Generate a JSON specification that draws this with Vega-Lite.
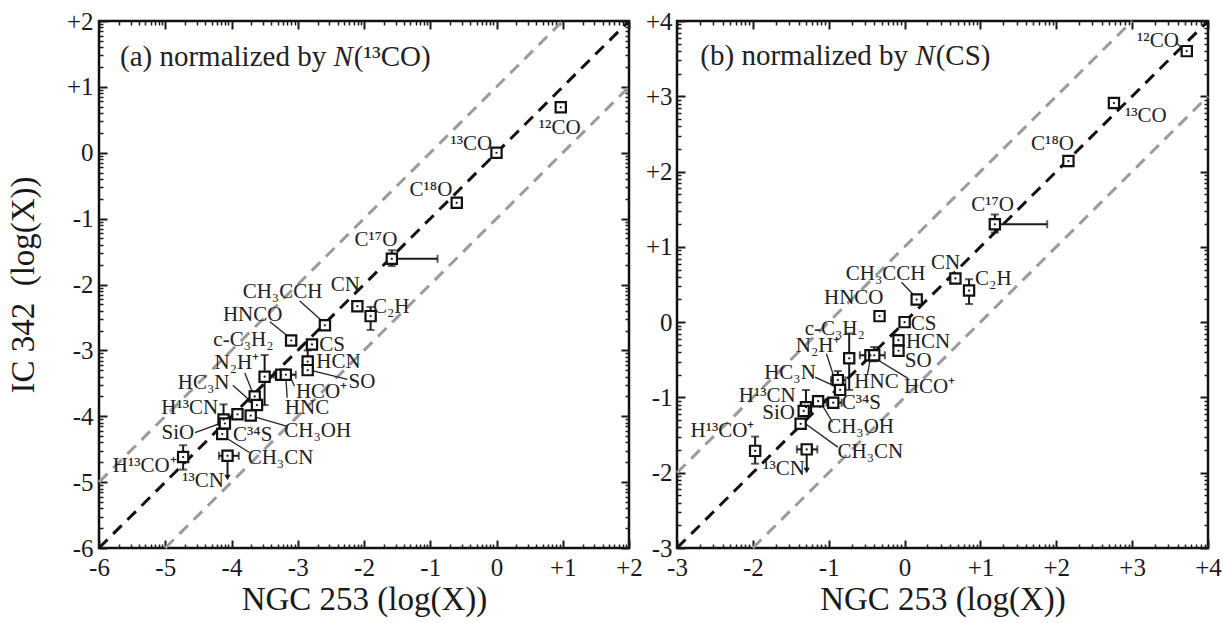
{
  "$schema": "https://vega.github.io/schema/vega-lite/v6.json",
  "background": "white",
  "padding": {"left": 6, "top": 7, "right": 0, "bottom": 0},
  "spacing": 0,
  "config": {
    "font": "Liberation Serif",
    "view": {"stroke": "#111111", "strokeWidth": 2.5},
    "axis": {"grid": false, "domain": false, "labelFont": "Liberation Serif", "titleFont": "Liberation Serif", "labelColor": "#1a1a1a", "titleColor": "#1a1a1a", "tickColor": "#1a1a1a", "titleFontWeight": "normal", "labelFlush": false, "labelOverlap": false},
    "text": {"font": "Liberation Serif"}
  },
  "datasets": {
    "diagA": [
      {"x": -6, "y": -5, "x2": 1, "y2": 2, "kind": "side"},
      {"x": -5, "y": -6, "x2": 2, "y2": 1, "kind": "side"},
      {"x": -6, "y": -6, "x2": 2, "y2": 2, "kind": "main"}
    ],
    "diagB": [
      {"x": -3, "y": -2, "x2": 3, "y2": 4, "kind": "side"},
      {"x": -2, "y": -3, "x2": 4, "y2": 3, "kind": "side"},
      {"x": -3, "y": -3, "x2": 4, "y2": 4, "kind": "main"}
    ],
    "ptsA": [
      {"mol": "12CO", "x": 0.97, "y": 0.69},
      {"mol": "13CO", "x": 0.0, "y": 0.0},
      {"mol": "C18O", "x": -0.6, "y": -0.76},
      {"mol": "C17O", "x": -1.58, "y": -1.61, "xlo": -1.58, "xhi": -0.89, "ylo": -1.72, "yhi": -1.48},
      {"mol": "CN", "x": -2.1, "y": -2.33},
      {"mol": "C2H", "x": -1.9, "y": -2.48, "ylo": -2.69, "yhi": -2.34},
      {"mol": "CH3CCH", "x": -2.59, "y": -2.62},
      {"mol": "HNCO", "x": -3.1, "y": -2.85},
      {"mol": "CS", "x": -2.785, "y": -2.91},
      {"mol": "HCN", "x": -2.85, "y": -3.17, "ylo": -3.17, "yhi": -3.0},
      {"mol": "SO", "x": -2.85, "y": -3.3},
      {"mol": "c-C3H2", "x": -3.5, "y": -3.4, "ylo": -3.83, "yhi": -3.07},
      {"mol": "HNC", "x": -3.25, "y": -3.37, "xlo": -3.36, "xhi": -3.15},
      {"mol": "HCO+", "x": -3.18, "y": -3.37, "xlo": -3.27, "xhi": -3.03, "ylo": -3.42, "yhi": -3.32},
      {"mol": "N2H+", "x": -3.65, "y": -3.7, "ylo": -3.77, "yhi": -3.63},
      {"mol": "HC3N", "x": -3.615, "y": -3.83},
      {"mol": "C34S", "x": -3.71, "y": -3.99},
      {"mol": "CH3OH", "x": -3.91, "y": -3.97, "xlo": -3.97, "xhi": -3.85},
      {"mol": "H13CN", "x": -4.12, "y": -4.05, "ylo": -4.12, "yhi": -3.82},
      {"mol": "SiO", "x": -4.1, "y": -4.11},
      {"mol": "CH3CN", "x": -4.14, "y": -4.27},
      {"mol": "H13CO+", "x": -4.73, "y": -4.62, "ylo": -4.81, "yhi": -4.44},
      {"mol": "13CN", "x": -4.06, "y": -4.6, "xlo": -4.19, "xhi": -3.89, "ul": -4.93}
    ],
    "ptsB": [
      {"mol": "12CO", "x": 3.72, "y": 3.6},
      {"mol": "13CO", "x": 2.76, "y": 2.91},
      {"mol": "C18O", "x": 2.16, "y": 2.14, "ylo": 2.1, "yhi": 2.18},
      {"mol": "C17O", "x": 1.19, "y": 1.3, "xlo": 1.19, "xhi": 1.88, "ylo": 1.19, "yhi": 1.43},
      {"mol": "CN", "x": 0.67, "y": 0.58},
      {"mol": "C2H", "x": 0.85, "y": 0.42, "ylo": 0.24, "yhi": 0.57},
      {"mol": "CH3CCH", "x": 0.16, "y": 0.3},
      {"mol": "HNCO", "x": -0.33, "y": 0.08},
      {"mol": "CS", "x": 0.0, "y": 0.0},
      {"mol": "HCN", "x": -0.08, "y": -0.24},
      {"mol": "SO", "x": -0.08, "y": -0.38},
      {"mol": "c-C3H2", "x": -0.73, "y": -0.48, "ylo": -0.9, "yhi": -0.15},
      {"mol": "HNC", "x": -0.45, "y": -0.44, "xlo": -0.59, "xhi": -0.35},
      {"mol": "HCO+", "x": -0.4, "y": -0.44, "xlo": -0.5, "xhi": -0.26, "ylo": -0.52, "yhi": -0.33},
      {"mol": "N2H+", "x": -0.88, "y": -0.77, "xlo": -0.97, "xhi": -0.78, "ylo": -0.88, "yhi": -0.65},
      {"mol": "HC3N", "x": -0.85, "y": -0.9},
      {"mol": "C34S", "x": -0.94, "y": -1.07, "xlo": -1.03, "xhi": -0.83},
      {"mol": "CH3OH", "x": -1.14, "y": -1.05, "ylo": -1.1, "yhi": -0.98},
      {"mol": "H13CN", "x": -1.3, "y": -1.13, "ylo": -1.22, "yhi": -0.9},
      {"mol": "SiO", "x": -1.33, "y": -1.18},
      {"mol": "CH3CN", "x": -1.37, "y": -1.35},
      {"mol": "H13CO+", "x": -1.97, "y": -1.71, "ylo": -1.88, "yhi": -1.52},
      {"mol": "13CN", "x": -1.29, "y": -1.69, "xlo": -1.42, "xhi": -1.15, "ul": -1.97}
    ],
    "labA": [
      {"label": "¹²CO", "x": 0.954, "y": 0.28},
      {"label": "¹³CO", "x": -0.38, "y": 0.04},
      {"label": "C¹⁸O", "x": -0.99, "y": -0.66},
      {"label": "C¹⁷O", "x": -1.82, "y": -1.42},
      {"label": "CH₃CCH", "x": -3.23, "y": -2.2},
      {"label": "CN", "x": -2.28, "y": -2.1},
      {"label": "C₂H", "x": -1.59, "y": -2.43},
      {"label": "HNCO", "x": -3.68, "y": -2.55},
      {"label": "CS", "x": -2.48, "y": -3.01},
      {"label": "c-C₃H₂", "x": -3.82, "y": -2.93},
      {"label": "HCN", "x": -2.385, "y": -3.27},
      {"label": "N₂H⁺", "x": -3.92, "y": -3.29},
      {"label": "SO", "x": -2.03, "y": -3.57},
      {"label": "HC₃N", "x": -4.42, "y": -3.59},
      {"label": "HCO⁺", "x": -2.64, "y": -3.73},
      {"label": "H¹³CN", "x": -4.63, "y": -3.96},
      {"label": "HNC", "x": -2.86, "y": -3.97},
      {"label": "SiO", "x": -4.81, "y": -4.35},
      {"label": "C³⁴S", "x": -3.68, "y": -4.37},
      {"label": "CH₃OH", "x": -2.7, "y": -4.31},
      {"label": "CH₃CN", "x": -3.26, "y": -4.73},
      {"label": "H¹³CO⁺", "x": -5.31, "y": -4.84},
      {"label": "¹³CN", "x": -4.43, "y": -5.08}
    ],
    "labB": [
      {"label": "¹²CO", "x": 3.34, "y": 3.65},
      {"label": "¹³CO", "x": 3.18, "y": 2.66},
      {"label": "C¹⁸O", "x": 1.95, "y": 2.29},
      {"label": "C¹⁷O", "x": 1.16, "y": 1.48},
      {"label": "CN", "x": 0.54, "y": 0.7},
      {"label": "CH₃CCH", "x": -0.25, "y": 0.56},
      {"label": "C₂H", "x": 1.17, "y": 0.49},
      {"label": "HNCO", "x": -0.67, "y": 0.24},
      {"label": "CS", "x": 0.25, "y": -0.1},
      {"label": "c-C₃H₂", "x": -0.92, "y": -0.17},
      {"label": "HCN", "x": 0.31, "y": -0.35},
      {"label": "N₂H⁺", "x": -1.14, "y": -0.39},
      {"label": "SO", "x": 0.18, "y": -0.59},
      {"label": "HC₃N", "x": -1.51, "y": -0.76},
      {"label": "HNC", "x": -0.37, "y": -0.88},
      {"label": "HCO⁺", "x": 0.33, "y": -0.94},
      {"label": "H¹³CN", "x": -1.81, "y": -1.06},
      {"label": "C³⁴S", "x": -0.57, "y": -1.15},
      {"label": "SiO", "x": -1.66, "y": -1.29},
      {"label": "CH₃OH", "x": -0.58, "y": -1.47},
      {"label": "H¹³CO⁺", "x": -2.4, "y": -1.52},
      {"label": "CH₃CN", "x": -0.45, "y": -1.81},
      {"label": "¹³CN", "x": -1.59, "y": -2.03}
    ],
    "leadA": [
      {"x": -2.97, "y": -2.25, "x2": -2.62, "y2": -2.565},
      {"x": -3.42, "y": -2.565, "x2": -3.12, "y2": -2.81},
      {"x": -3.8, "y": -3.34, "x2": -3.69, "y2": -3.62},
      {"x": -3.98, "y": -3.53, "x2": -3.69, "y2": -3.79},
      {"x": -2.25, "y": -3.44, "x2": -2.77, "y2": -3.31},
      {"x": -3.05, "y": -3.54, "x2": -3.12, "y2": -3.39},
      {"x": -3.16, "y": -3.72, "x2": -3.18, "y2": -3.41},
      {"x": -3.17, "y": -4.15, "x2": -3.65, "y2": -4.01},
      {"x": -4.55, "y": -4.25, "x2": -4.15, "y2": -4.1},
      {"x": -3.73, "y": -4.55, "x2": -4.08, "y2": -4.33}
    ],
    "leadB": [
      {"x": 3.58, "y": 3.72, "x2": 3.66, "y2": 3.63},
      {"x": -0.04, "y": 0.53, "x2": 0.13, "y2": 0.35},
      {"x": -1.03, "y": -0.42, "x2": -0.93, "y2": -0.73},
      {"x": -1.18, "y": -0.73, "x2": -0.9, "y2": -0.86},
      {"x": -0.49, "y": -0.7, "x2": -0.45, "y2": -0.48},
      {"x": 0.05, "y": -0.75, "x2": -0.39, "y2": -0.48},
      {"x": -0.95, "y": -1.33, "x2": -1.1, "y2": -1.08},
      {"x": -0.88, "y": -1.66, "x2": -1.32, "y2": -1.34}
    ],
    "ttlA": [
      {"t": "(a) normalized by ", "x": -5.683, "y": 1.317},
      {"t": "N", "x": -2.462, "y": 1.317},
      {"t": "(¹³CO)", "x": -2.155, "y": 1.317}
    ],
    "ttlB": [
      {"t": "(b) normalized by ", "x": -2.692, "y": 3.415},
      {"t": "N", "x": 0.143, "y": 3.415},
      {"t": "(CS)", "x": 0.41, "y": 3.415}
    ]
  },
  "hconcat": [
    {
      "width": 530,
      "height": 527,
      "resolve": {"axis": {"x": "independent", "y": "independent"}},
      "layer": [
        {
          "data": {"name": "diagA"},
          "mark": {"type": "rule", "strokeWidth": 3, "strokeDash": [12, 8]},
          "encoding": {
            "x": {"field": "x", "type": "quantitative", "scale": {"domain": [-6, 2], "nice": false, "zero": false},
              "axis": {"orient": "bottom", "values": [-6, -5, -4, -3, -2, -1, 0, 1, 2], "ticks": false, "labelExpr": "datum.value > 0 ? '+' + datum.value : '' + datum.value", "labelFontSize": 25, "labelPadding": 7, "title": "NGC 253 (log(X))", "titleFontSize": 33, "titlePadding": 3}},
            "y": {"field": "y", "type": "quantitative", "scale": {"domain": [-6, 2], "nice": false, "zero": false},
              "axis": {"orient": "left", "values": [-6, -5, -4, -3, -2, -1, 0, 1, 2], "ticks": false, "labelExpr": "datum.value > 0 ? '+' + datum.value : '' + datum.value", "labelFontSize": 25, "labelPadding": 6, "title": "IC 342\u00a0 (log(X))", "titleFontSize": 33, "titlePadding": 26}},
            "x2": {"field": "x2"},
            "y2": {"field": "y2"},
            "stroke": {"condition": {"test": "datum.kind === 'main'", "value": "#111111"}, "value": "#9b9b9b"}
          }
        },
        {
          "data": {"name": "leadA"},
          "mark": {"type": "rule", "strokeWidth": 1.3, "color": "#222222"},
          "encoding": {
            "x": {"field": "x", "type": "quantitative", "scale": {"domain": [-6, 2], "nice": false, "zero": false},
              "axis": {"orient": "bottom", "values": [-6, -5, -4, -3, -2, -1, 0, 1, 2], "labels": false, "tickSize": -8, "tickWidth": 2, "title": null}},
            "y": {"field": "y", "type": "quantitative", "scale": {"domain": [-6, 2], "nice": false, "zero": false},
              "axis": {"orient": "left", "values": [-6, -5, -4, -3, -2, -1, 0, 1, 2], "labels": false, "tickSize": -8, "tickWidth": 2, "title": null}},
            "x2": {"field": "x2"},
            "y2": {"field": "y2"}
          }
        },
        {
          "data": {"name": "ptsA"},
          "transform": [{"filter": "isValid(datum.ylo)"}],
          "mark": {"type": "rule", "strokeWidth": 2, "color": "#1a1a1a"},
          "encoding": {
            "x": {"field": "x", "type": "quantitative", "scale": {"domain": [-6, 2], "nice": false, "zero": false},
              "axis": {"orient": "bottom", "values": [-5.699, -5.523, -5.398, -5.301, -5.222, -5.155, -5.097, -5.046, -4.699, -4.523, -4.398, -4.301, -4.222, -4.155, -4.097, -4.046, -3.699, -3.523, -3.398, -3.301, -3.222, -3.155, -3.097, -3.046, -2.699, -2.523, -2.398, -2.301, -2.222, -2.155, -2.097, -2.046, -1.699, -1.523, -1.398, -1.301, -1.222, -1.155, -1.097, -1.046, -0.699, -0.523, -0.398, -0.301, -0.222, -0.155, -0.097, -0.046, 0.301, 0.477, 0.602, 0.699, 0.778, 0.845, 0.903, 0.954, 1.301, 1.477, 1.602, 1.699, 1.778, 1.845, 1.903, 1.954], "labels": false, "tickSize": -4, "tickWidth": 1.5, "title": null}},
            "y": {"field": "ylo", "type": "quantitative", "scale": {"domain": [-6, 2], "nice": false, "zero": false},
              "axis": {"orient": "left", "values": [-5.699, -5.523, -5.398, -5.301, -5.222, -5.155, -5.097, -5.046, -4.699, -4.523, -4.398, -4.301, -4.222, -4.155, -4.097, -4.046, -3.699, -3.523, -3.398, -3.301, -3.222, -3.155, -3.097, -3.046, -2.699, -2.523, -2.398, -2.301, -2.222, -2.155, -2.097, -2.046, -1.699, -1.523, -1.398, -1.301, -1.222, -1.155, -1.097, -1.046, -0.699, -0.523, -0.398, -0.301, -0.222, -0.155, -0.097, -0.046, 0.301, 0.477, 0.602, 0.699, 0.778, 0.845, 0.903, 0.954, 1.301, 1.477, 1.602, 1.699, 1.778, 1.845, 1.903, 1.954], "labels": false, "tickSize": -4, "tickWidth": 1.5, "title": null}},
            "y2": {"field": "yhi"}
          }
        },
        {
          "data": {"name": "ptsA"},
          "transform": [{"filter": "isValid(datum.xlo)"}],
          "mark": {"type": "rule", "strokeWidth": 2, "color": "#1a1a1a"},
          "encoding": {
            "x": {"field": "xlo", "type": "quantitative", "scale": {"domain": [-6, 2], "nice": false, "zero": false},
              "axis": {"orient": "top", "values": [-6, -5, -4, -3, -2, -1, 0, 1, 2], "labels": false, "tickSize": -8, "tickWidth": 2, "title": null}},
            "y": {"field": "y", "type": "quantitative", "scale": {"domain": [-6, 2], "nice": false, "zero": false},
              "axis": {"orient": "right", "values": [-6, -5, -4, -3, -2, -1, 0, 1, 2], "labels": false, "tickSize": -8, "tickWidth": 2, "title": null}},
            "x2": {"field": "xhi"}
          }
        },
        {
          "data": {"name": "ptsA"},
          "transform": [{"fold": ["ylo", "yhi"], "as": ["end", "val"]}, {"filter": "isValid(datum.val)"}],
          "mark": {"type": "tick", "orient": "horizontal", "size": 8, "thickness": 2, "color": "#1a1a1a"},
          "encoding": {
            "x": {"field": "x", "type": "quantitative", "scale": {"domain": [-6, 2], "nice": false, "zero": false},
              "axis": {"orient": "top", "values": [-5.699, -5.523, -5.398, -5.301, -5.222, -5.155, -5.097, -5.046, -4.699, -4.523, -4.398, -4.301, -4.222, -4.155, -4.097, -4.046, -3.699, -3.523, -3.398, -3.301, -3.222, -3.155, -3.097, -3.046, -2.699, -2.523, -2.398, -2.301, -2.222, -2.155, -2.097, -2.046, -1.699, -1.523, -1.398, -1.301, -1.222, -1.155, -1.097, -1.046, -0.699, -0.523, -0.398, -0.301, -0.222, -0.155, -0.097, -0.046, 0.301, 0.477, 0.602, 0.699, 0.778, 0.845, 0.903, 0.954, 1.301, 1.477, 1.602, 1.699, 1.778, 1.845, 1.903, 1.954], "labels": false, "tickSize": -4, "tickWidth": 1.5, "title": null}},
            "y": {"field": "val", "type": "quantitative", "scale": {"domain": [-6, 2], "nice": false, "zero": false},
              "axis": {"orient": "right", "values": [-5.699, -5.523, -5.398, -5.301, -5.222, -5.155, -5.097, -5.046, -4.699, -4.523, -4.398, -4.301, -4.222, -4.155, -4.097, -4.046, -3.699, -3.523, -3.398, -3.301, -3.222, -3.155, -3.097, -3.046, -2.699, -2.523, -2.398, -2.301, -2.222, -2.155, -2.097, -2.046, -1.699, -1.523, -1.398, -1.301, -1.222, -1.155, -1.097, -1.046, -0.699, -0.523, -0.398, -0.301, -0.222, -0.155, -0.097, -0.046, 0.301, 0.477, 0.602, 0.699, 0.778, 0.845, 0.903, 0.954, 1.301, 1.477, 1.602, 1.699, 1.778, 1.845, 1.903, 1.954], "labels": false, "tickSize": -4, "tickWidth": 1.5, "title": null}}
          }
        },
        {
          "data": {"name": "ptsA"},
          "transform": [{"fold": ["xlo", "xhi"], "as": ["end", "val"]}, {"filter": "isValid(datum.val)"}],
          "mark": {"type": "tick", "orient": "vertical", "size": 8, "thickness": 2, "color": "#1a1a1a"},
          "encoding": {
            "x": {"field": "val", "type": "quantitative", "scale": {"domain": [-6, 2], "nice": false, "zero": false}, "axis": null},
            "y": {"field": "y", "type": "quantitative", "scale": {"domain": [-6, 2], "nice": false, "zero": false}, "axis": null}
          }
        },
        {
          "data": {"name": "ptsA"},
          "transform": [{"filter": "isValid(datum.ul)"}],
          "mark": {"type": "rule", "strokeWidth": 2, "color": "#1a1a1a"},
          "encoding": {
            "x": {"field": "x", "type": "quantitative", "scale": {"domain": [-6, 2], "nice": false, "zero": false}, "axis": null},
            "y": {"field": "y", "type": "quantitative", "scale": {"domain": [-6, 2], "nice": false, "zero": false}, "axis": null},
            "y2": {"field": "ul"}
          }
        },
        {
          "data": {"name": "ptsA"},
          "transform": [{"filter": "isValid(datum.ul)"}],
          "mark": {"type": "point", "shape": "triangle-down", "size": 40, "filled": true, "color": "#1a1a1a", "opacity": 1},
          "encoding": {
            "x": {"field": "x", "type": "quantitative", "scale": {"domain": [-6, 2], "nice": false, "zero": false}, "axis": null},
            "y": {"field": "ul", "type": "quantitative", "scale": {"domain": [-6, 2], "nice": false, "zero": false}, "axis": null}
          }
        },
        {
          "data": {"name": "ptsA"},
          "mark": {"type": "point", "shape": "square", "size": 105, "filled": true, "fill": "white", "stroke": "#111111", "strokeWidth": 2.2, "opacity": 1},
          "encoding": {
            "x": {"field": "x", "type": "quantitative", "scale": {"domain": [-6, 2], "nice": false, "zero": false}, "axis": null},
            "y": {"field": "y", "type": "quantitative", "scale": {"domain": [-6, 2], "nice": false, "zero": false}, "axis": null}
          }
        },
        {
          "data": {"name": "ptsA"},
          "mark": {"type": "point", "shape": "circle", "size": 5, "filled": true, "color": "#111111", "opacity": 1},
          "encoding": {
            "x": {"field": "x", "type": "quantitative", "scale": {"domain": [-6, 2], "nice": false, "zero": false}, "axis": null},
            "y": {"field": "y", "type": "quantitative", "scale": {"domain": [-6, 2], "nice": false, "zero": false}, "axis": null}
          }
        },
        {
          "data": {"name": "labA"},
          "mark": {"type": "text", "font": "Liberation Serif", "fontSize": 21, "align": "center", "baseline": "alphabetic", "color": "#222222"},
          "encoding": {
            "x": {"field": "x", "type": "quantitative", "scale": {"domain": [-6, 2], "nice": false, "zero": false}, "axis": null},
            "y": {"field": "y", "type": "quantitative", "scale": {"domain": [-6, 2], "nice": false, "zero": false}, "axis": null},
            "text": {"field": "label"}
          }
        },
        {
          "data": {"name": "ttlA"},
          "transform": [{"filter": "datum.t !== 'N'"}],
          "mark": {"type": "text", "font": "Liberation Serif", "fontSize": 29, "align": "left", "baseline": "alphabetic", "color": "#222222"},
          "encoding": {
            "x": {"field": "x", "type": "quantitative", "scale": {"domain": [-6, 2], "nice": false, "zero": false}, "axis": null},
            "y": {"field": "y", "type": "quantitative", "scale": {"domain": [-6, 2], "nice": false, "zero": false}, "axis": null},
            "text": {"field": "t"}
          }
        },
        {
          "data": {"name": "ttlA"},
          "transform": [{"filter": "datum.t === 'N'"}],
          "mark": {"type": "text", "font": "Liberation Serif", "fontSize": 29, "fontStyle": "italic", "align": "left", "baseline": "alphabetic", "color": "#222222"},
          "encoding": {
            "x": {"field": "x", "type": "quantitative", "scale": {"domain": [-6, 2], "nice": false, "zero": false}, "axis": null},
            "y": {"field": "y", "type": "quantitative", "scale": {"domain": [-6, 2], "nice": false, "zero": false}, "axis": null},
            "text": {"field": "t"}
          }
        }
      ]
    },
    {
      "width": 531,
      "height": 527,
      "resolve": {"axis": {"x": "independent", "y": "independent"}},
      "layer": [
        {
          "data": {"name": "diagB"},
          "mark": {"type": "rule", "strokeWidth": 3, "strokeDash": [12, 8]},
          "encoding": {
            "x": {"field": "x", "type": "quantitative", "scale": {"domain": [-3, 4], "nice": false, "zero": false},
              "axis": {"orient": "bottom", "values": [-3, -2, -1, 0, 1, 2, 3, 4], "ticks": false, "labelExpr": "datum.value > 0 ? '+' + datum.value : '' + datum.value", "labelFontSize": 25, "labelPadding": 7, "title": "NGC 253 (log(X))", "titleFontSize": 33, "titlePadding": 3}},
            "y": {"field": "y", "type": "quantitative", "scale": {"domain": [-3, 4], "nice": false, "zero": false},
              "axis": {"orient": "left", "values": [-3, -2, -1, 0, 1, 2, 3, 4], "ticks": false, "labelExpr": "datum.value > 0 ? '+' + datum.value : '' + datum.value", "labelFontSize": 25, "labelPadding": 5, "title": null}},
            "x2": {"field": "x2"},
            "y2": {"field": "y2"},
            "stroke": {"condition": {"test": "datum.kind === 'main'", "value": "#111111"}, "value": "#9b9b9b"}
          }
        },
        {
          "data": {"name": "leadB"},
          "mark": {"type": "rule", "strokeWidth": 1.3, "color": "#222222"},
          "encoding": {
            "x": {"field": "x", "type": "quantitative", "scale": {"domain": [-3, 4], "nice": false, "zero": false},
              "axis": {"orient": "bottom", "values": [-3, -2, -1, 0, 1, 2, 3, 4], "labels": false, "tickSize": -8, "tickWidth": 2, "title": null}},
            "y": {"field": "y", "type": "quantitative", "scale": {"domain": [-3, 4], "nice": false, "zero": false},
              "axis": {"orient": "left", "values": [-3, -2, -1, 0, 1, 2, 3, 4], "labels": false, "tickSize": -8, "tickWidth": 2, "title": null}},
            "x2": {"field": "x2"},
            "y2": {"field": "y2"}
          }
        },
        {
          "data": {"name": "ptsB"},
          "transform": [{"filter": "isValid(datum.ylo)"}],
          "mark": {"type": "rule", "strokeWidth": 2, "color": "#1a1a1a"},
          "encoding": {
            "x": {"field": "x", "type": "quantitative", "scale": {"domain": [-3, 4], "nice": false, "zero": false},
              "axis": {"orient": "bottom", "values": [-2.699, -2.523, -2.398, -2.301, -2.222, -2.155, -2.097, -2.046, -1.699, -1.523, -1.398, -1.301, -1.222, -1.155, -1.097, -1.046, -0.699, -0.523, -0.398, -0.301, -0.222, -0.155, -0.097, -0.046, 0.301, 0.477, 0.602, 0.699, 0.778, 0.845, 0.903, 0.954, 1.301, 1.477, 1.602, 1.699, 1.778, 1.845, 1.903, 1.954, 2.301, 2.477, 2.602, 2.699, 2.778, 2.845, 2.903, 2.954, 3.301, 3.477, 3.602, 3.699, 3.778, 3.845, 3.903, 3.954], "labels": false, "tickSize": -4, "tickWidth": 1.5, "title": null}},
            "y": {"field": "ylo", "type": "quantitative", "scale": {"domain": [-3, 4], "nice": false, "zero": false},
              "axis": {"orient": "left", "values": [-2.699, -2.523, -2.398, -2.301, -2.222, -2.155, -2.097, -2.046, -1.699, -1.523, -1.398, -1.301, -1.222, -1.155, -1.097, -1.046, -0.699, -0.523, -0.398, -0.301, -0.222, -0.155, -0.097, -0.046, 0.301, 0.477, 0.602, 0.699, 0.778, 0.845, 0.903, 0.954, 1.301, 1.477, 1.602, 1.699, 1.778, 1.845, 1.903, 1.954, 2.301, 2.477, 2.602, 2.699, 2.778, 2.845, 2.903, 2.954, 3.301, 3.477, 3.602, 3.699, 3.778, 3.845, 3.903, 3.954], "labels": false, "tickSize": -4, "tickWidth": 1.5, "title": null}},
            "y2": {"field": "yhi"}
          }
        },
        {
          "data": {"name": "ptsB"},
          "transform": [{"filter": "isValid(datum.xlo)"}],
          "mark": {"type": "rule", "strokeWidth": 2, "color": "#1a1a1a"},
          "encoding": {
            "x": {"field": "xlo", "type": "quantitative", "scale": {"domain": [-3, 4], "nice": false, "zero": false},
              "axis": {"orient": "top", "values": [-3, -2, -1, 0, 1, 2, 3, 4], "labels": false, "tickSize": -8, "tickWidth": 2, "title": null}},
            "y": {"field": "y", "type": "quantitative", "scale": {"domain": [-3, 4], "nice": false, "zero": false},
              "axis": {"orient": "right", "values": [-3, -2, -1, 0, 1, 2, 3, 4], "labels": false, "tickSize": -8, "tickWidth": 2, "title": null}},
            "x2": {"field": "xhi"}
          }
        },
        {
          "data": {"name": "ptsB"},
          "transform": [{"fold": ["ylo", "yhi"], "as": ["end", "val"]}, {"filter": "isValid(datum.val)"}],
          "mark": {"type": "tick", "orient": "horizontal", "size": 8, "thickness": 2, "color": "#1a1a1a"},
          "encoding": {
            "x": {"field": "x", "type": "quantitative", "scale": {"domain": [-3, 4], "nice": false, "zero": false},
              "axis": {"orient": "top", "values": [-2.699, -2.523, -2.398, -2.301, -2.222, -2.155, -2.097, -2.046, -1.699, -1.523, -1.398, -1.301, -1.222, -1.155, -1.097, -1.046, -0.699, -0.523, -0.398, -0.301, -0.222, -0.155, -0.097, -0.046, 0.301, 0.477, 0.602, 0.699, 0.778, 0.845, 0.903, 0.954, 1.301, 1.477, 1.602, 1.699, 1.778, 1.845, 1.903, 1.954, 2.301, 2.477, 2.602, 2.699, 2.778, 2.845, 2.903, 2.954, 3.301, 3.477, 3.602, 3.699, 3.778, 3.845, 3.903, 3.954], "labels": false, "tickSize": -4, "tickWidth": 1.5, "title": null}},
            "y": {"field": "val", "type": "quantitative", "scale": {"domain": [-3, 4], "nice": false, "zero": false},
              "axis": {"orient": "right", "values": [-2.699, -2.523, -2.398, -2.301, -2.222, -2.155, -2.097, -2.046, -1.699, -1.523, -1.398, -1.301, -1.222, -1.155, -1.097, -1.046, -0.699, -0.523, -0.398, -0.301, -0.222, -0.155, -0.097, -0.046, 0.301, 0.477, 0.602, 0.699, 0.778, 0.845, 0.903, 0.954, 1.301, 1.477, 1.602, 1.699, 1.778, 1.845, 1.903, 1.954, 2.301, 2.477, 2.602, 2.699, 2.778, 2.845, 2.903, 2.954, 3.301, 3.477, 3.602, 3.699, 3.778, 3.845, 3.903, 3.954], "labels": false, "tickSize": -4, "tickWidth": 1.5, "title": null}}
          }
        },
        {
          "data": {"name": "ptsB"},
          "transform": [{"fold": ["xlo", "xhi"], "as": ["end", "val"]}, {"filter": "isValid(datum.val)"}],
          "mark": {"type": "tick", "orient": "vertical", "size": 8, "thickness": 2, "color": "#1a1a1a"},
          "encoding": {
            "x": {"field": "val", "type": "quantitative", "scale": {"domain": [-3, 4], "nice": false, "zero": false}, "axis": null},
            "y": {"field": "y", "type": "quantitative", "scale": {"domain": [-3, 4], "nice": false, "zero": false}, "axis": null}
          }
        },
        {
          "data": {"name": "ptsB"},
          "transform": [{"filter": "isValid(datum.ul)"}],
          "mark": {"type": "rule", "strokeWidth": 2, "color": "#1a1a1a"},
          "encoding": {
            "x": {"field": "x", "type": "quantitative", "scale": {"domain": [-3, 4], "nice": false, "zero": false}, "axis": null},
            "y": {"field": "y", "type": "quantitative", "scale": {"domain": [-3, 4], "nice": false, "zero": false}, "axis": null},
            "y2": {"field": "ul"}
          }
        },
        {
          "data": {"name": "ptsB"},
          "transform": [{"filter": "isValid(datum.ul)"}],
          "mark": {"type": "point", "shape": "triangle-down", "size": 40, "filled": true, "color": "#1a1a1a", "opacity": 1},
          "encoding": {
            "x": {"field": "x", "type": "quantitative", "scale": {"domain": [-3, 4], "nice": false, "zero": false}, "axis": null},
            "y": {"field": "ul", "type": "quantitative", "scale": {"domain": [-3, 4], "nice": false, "zero": false}, "axis": null}
          }
        },
        {
          "data": {"name": "ptsB"},
          "mark": {"type": "point", "shape": "square", "size": 105, "filled": true, "fill": "white", "stroke": "#111111", "strokeWidth": 2.2, "opacity": 1},
          "encoding": {
            "x": {"field": "x", "type": "quantitative", "scale": {"domain": [-3, 4], "nice": false, "zero": false}, "axis": null},
            "y": {"field": "y", "type": "quantitative", "scale": {"domain": [-3, 4], "nice": false, "zero": false}, "axis": null}
          }
        },
        {
          "data": {"name": "ptsB"},
          "mark": {"type": "point", "shape": "circle", "size": 5, "filled": true, "color": "#111111", "opacity": 1},
          "encoding": {
            "x": {"field": "x", "type": "quantitative", "scale": {"domain": [-3, 4], "nice": false, "zero": false}, "axis": null},
            "y": {"field": "y", "type": "quantitative", "scale": {"domain": [-3, 4], "nice": false, "zero": false}, "axis": null}
          }
        },
        {
          "data": {"name": "labB"},
          "mark": {"type": "text", "font": "Liberation Serif", "fontSize": 21, "align": "center", "baseline": "alphabetic", "color": "#222222"},
          "encoding": {
            "x": {"field": "x", "type": "quantitative", "scale": {"domain": [-3, 4], "nice": false, "zero": false}, "axis": null},
            "y": {"field": "y", "type": "quantitative", "scale": {"domain": [-3, 4], "nice": false, "zero": false}, "axis": null},
            "text": {"field": "label"}
          }
        },
        {
          "data": {"name": "ttlB"},
          "transform": [{"filter": "datum.t !== 'N'"}],
          "mark": {"type": "text", "font": "Liberation Serif", "fontSize": 29, "align": "left", "baseline": "alphabetic", "color": "#222222"},
          "encoding": {
            "x": {"field": "x", "type": "quantitative", "scale": {"domain": [-3, 4], "nice": false, "zero": false}, "axis": null},
            "y": {"field": "y", "type": "quantitative", "scale": {"domain": [-3, 4], "nice": false, "zero": false}, "axis": null},
            "text": {"field": "t"}
          }
        },
        {
          "data": {"name": "ttlB"},
          "transform": [{"filter": "datum.t === 'N'"}],
          "mark": {"type": "text", "font": "Liberation Serif", "fontSize": 29, "fontStyle": "italic", "align": "left", "baseline": "alphabetic", "color": "#222222"},
          "encoding": {
            "x": {"field": "x", "type": "quantitative", "scale": {"domain": [-3, 4], "nice": false, "zero": false}, "axis": null},
            "y": {"field": "y", "type": "quantitative", "scale": {"domain": [-3, 4], "nice": false, "zero": false}, "axis": null},
            "text": {"field": "t"}
          }
        }
      ]
    }
  ]
}
